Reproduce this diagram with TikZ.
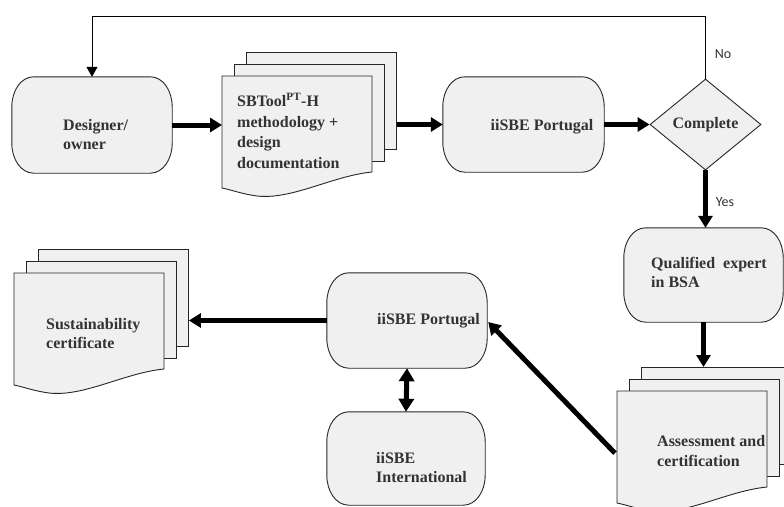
\documentclass[tikz,border=0pt]{standalone}
\usepackage{fontspec}
\setmainfont{Liberation Serif}
\newfontfamily\labelsans{Carlito}
\usetikzlibrary{arrows.meta,shapes.geometric,calc}
\definecolor{boxfill}{HTML}{F0F0F0}
\definecolor{txtcol}{HTML}{333333}
\tikzset{
  term/.style={inner sep=0pt},
  termline/.style={draw=black!85, line width=0.9pt, fill=boxfill},
  page/.style={draw=black!85, line width=0.9pt, fill=boxfill, minimum width=150pt, minimum height=97pt, inner sep=0pt, anchor=north west},
  frontpage/.style={draw=black!85, line width=0.9pt, fill=boxfill},
  lbl/.style={font=\bfseries\fontsize{16}{19.5}\selectfont, text=txtcol, align=left, inner sep=0pt, anchor=west},
  yesno/.style={font=\labelsans\fontsize{14}{16}\selectfont, text=txtcol, inner sep=0pt},
  bigarrow/.style={line width=5pt, -{Triangle[length=12pt,width=14pt]}},
  twoarrow/.style={line width=5pt, {Triangle[length=13pt,width=15pt]}-{Triangle[length=13pt,width=15pt]}},
  thinarrow/.style={line width=1pt, -{Triangle[length=10pt,width=11pt]}},
}
% outline of a terminator-like box around node #1
\newcommand\myterm[1]{%
  \draw[termline]
    ($(#1.north west)+(22,0)$) -- ($(#1.north east)+(-22,0)$)
    .. controls ($(#1.north east)+(-9,0)$) and ($(#1.north east)+(0,14)$) .. ($(#1.north east)+(0,30)$)
    -- ($(#1.south east)+(0,-30)$)
    .. controls ($(#1.south east)+(0,-14)$) and ($(#1.south east)+(-9,0)$) .. ($(#1.south east)+(-22,0)$)
    -- ($(#1.south west)+(22,0)$)
    .. controls ($(#1.south west)+(9,0)$) and ($(#1.south west)+(0,-14)$) .. ($(#1.south west)+(0,-30)$)
    -- ($(#1.north west)+(0,30)$)
    .. controls ($(#1.north west)+(0,14)$) and ($(#1.north west)+(9,0)$) .. cycle;
}
% #1 name, #2 x, #3 y of the front page's top-left corner
\newcommand\mystack[3]{%
  \node[page] (#1c) at (#2+24,#3-24) {};
  \node[page] (#1b) at (#2+12,#3-12) {};
  \begin{scope}[shift={(#2,#3)}]
    \draw[frontpage] (0,0) -- (150,0) -- (150,96)
      .. controls (110,100) and (70,124) .. (35,120)
      .. controls (20,118) and (10,114) .. (0,112) -- cycle;
  \end{scope}
  \node[inner sep=0pt, minimum width=150pt, minimum height=112pt, anchor=north west] (#1) at (#2,#3) {};
}
\begin{document}
\begin{tikzpicture}[x=1pt,y=-1pt]
\useasboundingbox (0,0) rectangle (784,506);

% process boxes
\node[term, minimum width=160pt, minimum height=96pt] (designer) at (92,125) {};
\node[term, minimum width=161pt, minimum height=95pt] (iisbe1) at (523.5,124.5) {};
\node[term, minimum width=159pt, minimum height=94pt] (qualified) at (703.5,275) {};
\node[term, minimum width=160pt, minimum height=95pt] (iisbe2) at (407,320.5) {};
\node[term, minimum width=158pt, minimum height=93pt] (intl) at (406,458.5) {};
\myterm{designer}
\myterm{iisbe1}
\myterm{qualified}
\myterm{iisbe2}
\myterm{intl}

% decision
\node[diamond, draw=black!85, line width=0.9pt, fill=boxfill, inner sep=0pt,
      minimum width=111pt, minimum height=91pt,
      font=\bfseries\fontsize{16}{19.5}\selectfont, text=txtcol] (complete) at (705.5,124.5) {Complete};

% document stacks
\mystack{sbtool}{222}{76}
\mystack{sust}{14}{273}
\mystack{assess}{617}{391}

% texts
\node[lbl] (designer-t) at (63,134.5) {Designer/\\owner};
\node[lbl, font=\bfseries\fontsize{16}{20.5}\selectfont] (sbtool-t) at (237,131) {SBTool\textsuperscript{PT}-H\\methodology +\\design\\documentation};
\node[lbl, anchor=center] (iisbe1-t) at (542,127) {iiSBE Portugal};
\node[lbl] (qualified-t) at (651,272.5) {Qualified\ \ expert\\in BSA};
\node[lbl] (assess-t) at (657,451) {Assessment and\\certification};
\node[lbl] (iisbe2-t) at (377,321) {iiSBE Portugal};
\node[lbl] (intl-t) at (376,467.5) {iiSBE\\International};
\node[lbl] (sust-t) at (46,333.5) {Sustainability\\certificate};

% connectors
\draw[bigarrow] (designer.east) -- (designer.east -| sbtool.west);
\draw[bigarrow] (sbtoolc.east |- iisbe1.west) -- (iisbe1.west);
\draw[bigarrow] (iisbe1.east) -- (complete.west);
\coordinate (topR) at ($(complete.north)+(0,-62)$);
\coordinate (topL) at (topR -| designer.north);
\draw[thinarrow] (complete.north) -- (topR) -- (topL) -- (designer.north);
\node[yesno] (no) at (723,54) {No};
\draw[bigarrow] (complete.south) -- (complete.south |- qualified.north);
\node[yesno] (yes) at (725,202) {Yes};
\draw[bigarrow] (qualified.south) -- (qualified.south |- assessc.north);
\coordinate (diagS) at ($(assess.west)+(-2,6)$);
\draw[bigarrow] (diagS) -- ($(iisbe2.east)+(1,1.5)$);
\draw[bigarrow] (iisbe2.west) -- (iisbe2.west -| sustc.east);
\draw[twoarrow] (iisbe2.south) -- (intl.north);
\end{tikzpicture}
\end{document}
